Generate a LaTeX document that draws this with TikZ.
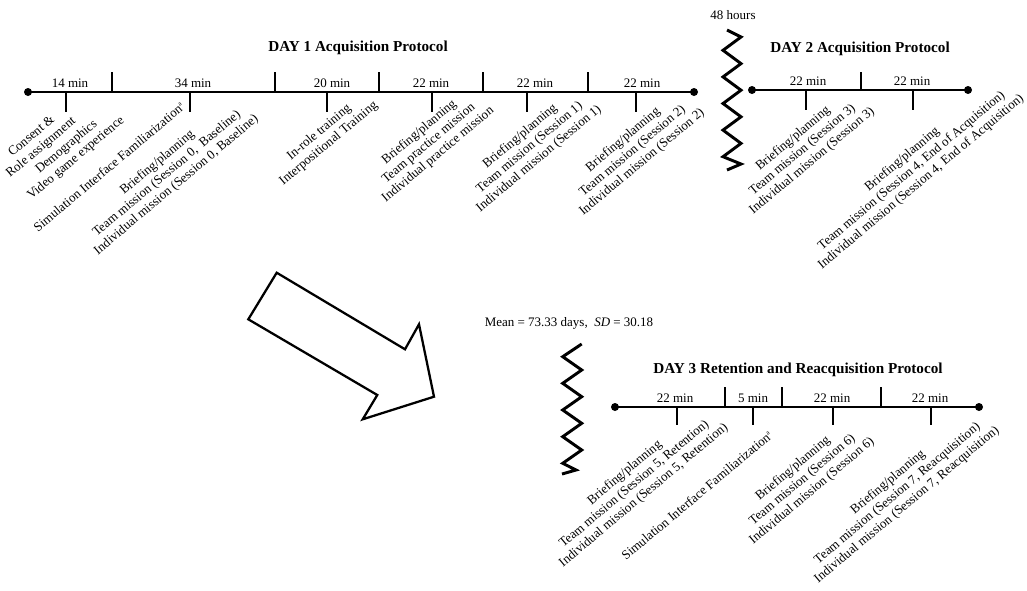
\documentclass[tikz,border=0pt]{standalone}
\usepackage{fontspec}
\setmainfont{Liberation Serif}
\begin{document}
\begin{tikzpicture}[x=0.75pt,y=-0.75pt,
  tline/.style={line width=2.2pt},
  divider/.style={line width=0.9pt},
  evtick/.style={line width=2.2pt},
  dotst/.style={circle,fill=black,inner sep=0pt,minimum size=6pt},
  durlab/.style={font=\fontsize{9.75}{11}\selectfont,inner sep=0pt},
  evblock/.style={rotate=40,align=center,inner sep=0pt,font=\fontsize{9.75}{11}\selectfont},
  ttl/.style={font=\bfseries\fontsize{11.4}{13}\selectfont,inner sep=0pt},
  zig/.style={line width=2.2pt,line join=miter},
  bigarrow/.style={line width=1.7pt,line join=miter}
]
\useasboundingbox (0,0) rectangle (1027,590);
\newcommand{\supa}{\textsuperscript{\fontsize{5}{5}\selectfont a}}

% ---------------- DAY 1 ----------------
\node[ttl] (t1) at (358,48) {DAY 1 Acquisition Protocol};
\node[dotst] (d1s) at (28,92) {};
\node[dotst] (d1e) at (694,92) {};
\draw[tline] (d1s.center) -- (d1e.center);
\foreach \x in {112,275,379,483,588} \draw[divider] (\x,72) -- (\x,92);
\foreach \x in {66,190,327,432,527,636} \draw[evtick] (\x,92) -- (\x,112);
\node[durlab] (m11) at (70,83) {14 min};
\node[durlab] (m12) at (193,83) {34 min};
\node[durlab] (m13) at (332,83) {20 min};
\node[durlab] (m14) at (431,83) {22 min};
\node[durlab] (m15) at (535,83) {22 min};
\node[durlab] (m16) at (642,83) {22 min};

\node[evblock] (e1a) at (36.6,142.3) {Consent \&\\Role assignment};
\node[evblock] (e1b) at (71.3,152.7) {Demographics\\Video game experience};
\node[evblock] (e1c) at (109,166.8) {Simulation Interface Familiarization\supa};
\node[evblock] (e1d) at (166.9,173.9) {Briefing/planning\\Team mission (Session 0,~ Baseline)\\Individual mission (Session 0, Baseline)};
\node[evblock] (e1e) at (324,138) {In-role training\\Interpositional Training};
\node[evblock] (e1f) at (428.7,143.6) {Briefing/planning\\Team practice mission\\Individual practice mission};
\node[evblock] (e1g) at (529.6,147.6) {Briefing/planning\\Team mission (Session 1)\\Individual mission (Session 1)};
\node[evblock] (e1h) at (632.6,151.2) {Briefing/planning\\Team mission (Session 2)\\Individual mission (Session 2)};

% ---------------- gap 1 ----------------
\node[durlab] (h48) at (733,15) {48 hours};
\draw[zig] (727,30) -- (741,37)
  -- (723,50.3) -- (741,63.6) -- (723,76.9) -- (741,90.2) -- (723,103.5)
  -- (741,116.8) -- (723,130.1) -- (741,143.4) -- (723,156.7) -- (741,164) -- (727,170);

% ---------------- DAY 2 ----------------
\node[ttl] (t2) at (860,49) {DAY 2 Acquisition Protocol};
\node[dotst] (d2s) at (752,90) {};
\node[dotst] (d2e) at (968,90) {};
\draw[tline] (d2s.center) -- (d2e.center);
\draw[divider] (861,72) -- (861,90);
\foreach \x in {806,913} \draw[evtick] (\x,90) -- (\x,110);
\node[durlab] (m21) at (808,81) {22 min};
\node[durlab] (m22) at (912,81) {22 min};
\node[evblock] (e2a) at (802.6,150) {Briefing/planning\\Team mission (Session 3)\\Individual mission (Session 3)};
\node[evblock] (e2b) at (911.7,170.7) {Briefing/planning\\Team mission (Session 4, End of Acquisition)\\Individual mission (Session 4, End of Acquisition)};

% ---------------- big arrow ----------------
\draw[bigarrow] (276.7,272.7) -- (405,349.3) -- (419,324.3) -- (434,396.7)
  -- (362.7,419.3) -- (377.3,395) -- (248.3,319.3) -- cycle;

% ---------------- gap 2 ----------------
\node[durlab] (mean) at (569,323) {Mean = 73.33 days,~ \textit{SD} = 30.18};
\draw[zig] (581.7,344) -- (562.7,356.7) -- (581.7,370) -- (562.7,383.3)
  -- (581.7,396.7) -- (562.7,410) -- (581.7,423.3) -- (562.7,436.7)
  -- (581.7,450) -- (562.7,463.3) -- (576,470) -- (562,474);

% ---------------- DAY 3 ----------------
\node[ttl] (t3) at (798,370) {DAY 3 Retention and Reacquisition Protocol};
\node[dotst] (d3s) at (615,407) {};
\node[dotst] (d3e) at (979,407) {};
\draw[tline] (d3s.center) -- (d3e.center);
\foreach \x in {725,782,881} \draw[divider] (\x,387) -- (\x,407);
\foreach \x in {677,753,833,931} \draw[evtick] (\x,407) -- (\x,425);
\node[durlab] (m31) at (675,398) {22 min};
\node[durlab] (m32) at (753,398) {5 min};
\node[durlab] (m33) at (832,398) {22 min};
\node[durlab] (m34) at (930,398) {22 min};
\node[evblock] (e3a) at (634.3,484.2) {Briefing/planning\\Team mission (Session 5, Retention)\\Individual mission (Session 5, Retention)};
\node[evblock] (e3b) at (697,495.2) {Simulation Interface Familiarization\supa};
\node[evblock] (e3c) at (802.5,480) {Briefing/planning\\Team mission (Session 6)\\Individual mission (Session 6)};
\node[evblock] (e3d) at (897.5,493.6) {Briefing/planning\\Team mission (Session 7, Reacquisition)\\Individual mission (Session 7, Reacquisition)};
\end{tikzpicture}
\end{document}
